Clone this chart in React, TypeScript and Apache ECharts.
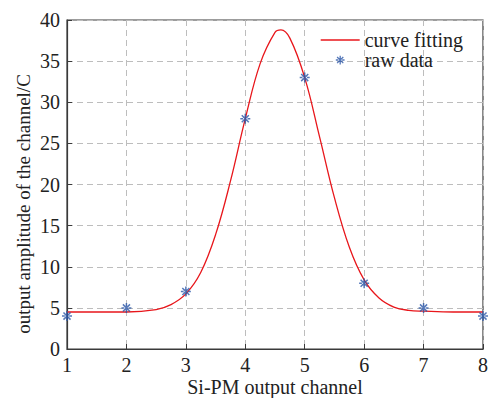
import React, { useEffect, useRef } from "react";
import * as echarts from "echarts";

const rawX = [1, 2, 3, 4, 5, 6, 7, 8];
const rawY = [4, 5, 7, 28, 33, 8, 5, 4];

const fitX = [1, 1.5, 2, 2.5, 2.75, 3, 3.25, 3.5, 3.75, 4, 4.25, 4.5, 4.6, 4.75, 5, 5.25, 5.5, 5.75, 6, 6.25, 6.5, 6.75, 7, 7.5, 8];
const fitY = [4.5, 4.5, 4.5, 4.8, 5.4, 6.7, 9.3, 13.9, 20.4, 28, 34.7, 38.5, 38.8, 37.8, 33, 25.8, 18.4, 12.4, 8.4, 6.2, 5.1, 4.7, 4.6, 4.5, 4.5];

const xTicks = [1, 2, 3, 4, 5, 6, 7, 8];
const yTicks = [0, 5, 10, 15, 20, 25, 30, 35, 40];
const yAxisName = "output amplitude of the channel/C";

const FONT = "'Liberation Serif', 'Times New Roman', serif";

const star =
  "M-1.5,-10 L1.5,-10 L1.5,10 L-1.5,10 Z M-10,-1.5 L-10,1.5 L10,1.5 L10,-1.5 Z M-8.1,-6 L-6,-8.1 L8.1,6 L6,8.1 Z M6,-8.1 L8.1,-6 L-6,8.1 L-8.1,6 Z M-4.5,-4.5 L4.5,-4.5 L4.5,4.5 L-4.5,4.5 Z";
const asterisk = "path://" + star;
const asteriskSmall = "path://M-16,-16 L-16,-15.9 L-15.9,-15.9 Z M16,16 L16,15.9 L15.9,15.9 Z " + star;

export default function App() {
  const ref = useRef<HTMLDivElement>(null);
  useEffect(() => {
    if (!ref.current) return;
    const chart = echarts.init(ref.current, null, { renderer: "svg" });
    chart.setOption({
      animation: false,
      backgroundColor: "#fff",
      grid: {
        left: 67,
        right: 8,
        top: 20,
        bottom: 49,
        show: true,
        borderColor: "#3a3a3a",
        borderWidth: 1.2,
        containLabel: false,
        outerBoundsMode: "none",
      },
      graphic: [
        {
          type: "text",
          x: 23.5,
          y: 204,
          rotation: Math.PI / 2,
          style: {
            text: yAxisName,
            fontFamily: FONT,
            fontSize: 19,
            fill: "#222",
            align: "center",
            verticalAlign: "middle",
          },
        },
      ],
      legend: {
        right: 23,
        top: 25,
        orient: "vertical",
        itemGap: 0,
        itemWidth: 39,
        itemHeight: 14,
        textStyle: { fontFamily: FONT, fontSize: 20, color: "#222" },
        data: [
          { name: "curve fitting", icon: "path://M0,6 L40,6 L40,7.3 L0,7.3 Z" },
          { name: "raw data", icon: asteriskSmall, itemStyle: { color: "#2a56a8" } },
        ],
      },
      xAxis: {
        type: "value",
        min: 1,
        max: 8,
        interval: 1,
        name: "Si-PM output channel",
        nameLocation: "middle",
        nameGap: 38,
        nameMoveOverlap: false,
        nameTextStyle: { fontFamily: FONT, fontSize: 20, color: "#222", verticalAlign: "middle" },
        axisLine: { show: true, lineStyle: { color: "#3a3a3a", width: 1.2 } },
        axisTick: { show: true, inside: true, length: 5, lineStyle: { color: "#3a3a3a" } },
        axisLabel: {
          fontFamily: FONT,
          fontSize: 20,
          color: "#222",
          margin: 6,
          formatter: (v: number) => (xTicks.includes(v) ? String(v) : ""),
        },
        splitLine: { show: true, lineStyle: { color: "#bdbdbd", type: [6, 4], width: 1 } },
      },
      yAxis: {
        type: "value",
        min: 0,
        max: 40,
        interval: 5,
        axisLine: { show: true, lineStyle: { color: "#3a3a3a", width: 1.2 } },
        axisTick: { show: true, inside: true, length: 5, lineStyle: { color: "#3a3a3a" } },
        axisLabel: {
          fontFamily: FONT,
          fontSize: 20,
          color: "#222",
          margin: 7,
          formatter: (v: number) => (yTicks.includes(v) ? String(v) : ""),
        },
        splitLine: { show: true, lineStyle: { color: "#bdbdbd", type: [6, 4], width: 1 } },
      },
      series: [
        {
          name: "curve fitting",
          type: "line",
          smooth: 0.4,
          showSymbol: false,
          data: fitX.map((x, i) => [x, fitY[i]]),
          lineStyle: { color: "#e8161b", width: 1.3 },
          itemStyle: { color: "#e8161b" },
          z: 3,
        },
        {
          name: "raw data",
          type: "scatter",
          symbol: asterisk,
          symbolSize: 10,
          data: rawX.map((x, i) => [x, rawY[i]]),
          itemStyle: { color: "#2a56a8" },
          z: 4,
        },
      ],
    });
    return () => chart.dispose();
  }, []);
  return <div ref={ref} style={{ width: 491, height: 398, position: "absolute", left: 0, top: 0 }} />;
}
